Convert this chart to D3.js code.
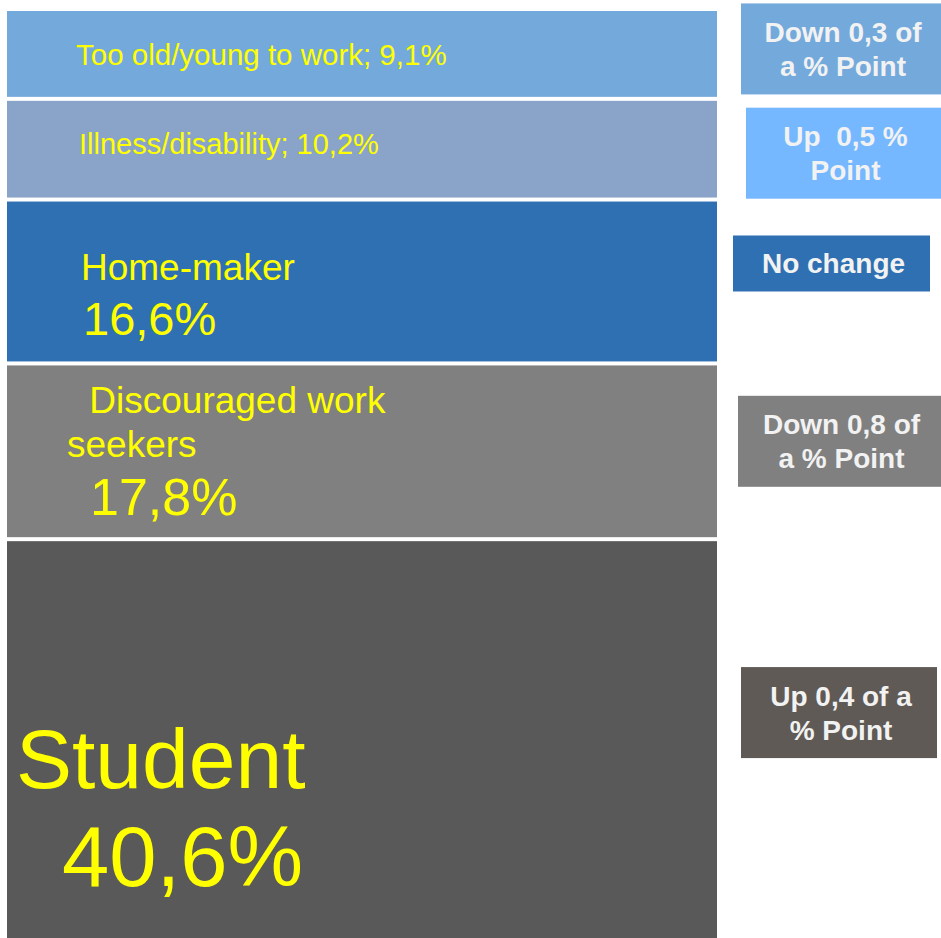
<!DOCTYPE html>
<html>
<head>
<meta charset="utf-8">
<script src="https://cdn.jsdelivr.net/npm/d3@7"></script>
<style>
  html, body { margin: 0; padding: 0; background: #fff; }
  svg { display: block; }
  text { font-family: "Liberation Sans", Arial, sans-serif; }
</style>
</head>
<body>
<div id="chart"></div>
<script>
// data, bottom to top of the stack
var categories = ["Student", "Discouraged work seekers", "Home-maker", "Illness/disability", "Too old/young to work"];
var shares = [40.6, 17.8, 16.6, 10.2, 9.1];
var changes = [
    ["Up 0,4 of a", "% Point"],
    ["Down 0,8 of", "a % Point"],
    ["No change"],
    ["Up  0,5 %", "Point"],
    ["Down 0,3 of", "a % Point"]
];

var barColors = ["#595959", "#808080", "#2e70b1", "#8aa3c8", "#74a9dc"];
var boxColors = ["#5f5a55", "#808080", "#2e70b1", "#75b8ff", "#74a9dc"];

var width = 941, height = 938;
var gap = 4;

function pct(v) {
    return d3.format(".1f")(v).replace(".", ",") + "%";
}

// label lines inside each bar: dx, dy from bar top, font size
var barLabels = [
    [{t: "Student", x: 16, dy: 247, fs: 84}, {t: pct(shares[0]), x: 62, dy: 345, fs: 85}],
    [{t: " Discouraged work", x: 79, dy: 48, fs: 37}, {t: "seekers", x: 67, dy: 92, fs: 37}, {t: pct(shares[1]), x: 90, dy: 150, fs: 52}],
    [{t: categories[2], x: 81, dy: 78, fs: 37}, {t: pct(shares[2]), x: 83, dy: 133, fs: 47}],
    [{t: categories[3] + "; " + pct(shares[3]), x: 79, dy: 53, fs: 29}],
    [{t: categories[4] + "; " + pct(shares[4]), x: 76, dy: 54, fs: 29.5}]
];

// change boxes: x, width, height, vertical shift of centre vs bar centre
var boxLayout = [
    {x: 741, w: 196, h: 91, shift: -27},
    {x: 738, w: 203, h: 91, shift: -10},
    {x: 733, w: 197, h: 56, shift: -18},
    {x: 746, w: 195, h: 91, shift: 4},
    {x: 741, w: 200, h: 91, shift: -5}
];

var stack = [];
var cum = 0;
shares.forEach(function (v, i) {
    stack.push({i: i, y0: cum, y1: cum + v, v: v});
    cum += v;
});

var y = d3.scaleLinear().domain([0, d3.sum(shares)]).range([940, 9]);
var x0 = 7, x1 = 717;

var svg = d3.select("#chart").append("svg")
    .attr("width", width)
    .attr("height", height);

var bars = svg.selectAll("g.bar")
    .data(stack)
    .enter()
    .append("g")
    .attr("class", "bar");

bars.append("rect")
    .attr("x", x0)
    .attr("width", x1 - x0)
    .attr("y", function (d) { return y(d.y1) + gap / 2; })
    .attr("height", function (d) { return y(d.y0) - y(d.y1) - gap; })
    .attr("fill", function (d) { return barColors[d.i]; });

bars.each(function (d) {
    var top = y(d.y1) + gap / 2;
    d3.select(this).selectAll("text")
        .data(barLabels[d.i])
        .enter()
        .append("text")
        .attr("x", function (l) { return l.x; })
        .attr("y", function (l) { return top + l.dy; })
        .attr("font-size", function (l) { return l.fs; })
        .attr("fill", "#ffff00")
        .style("white-space", "pre")
        .text(function (l) { return l.t; });
});

// change boxes on the right
var boxes = svg.selectAll("g.box")
    .data(stack)
    .enter()
    .append("g")
    .attr("class", "box");

boxes.each(function (d) {
    var b = boxLayout[d.i];
    var mid = (y(d.y0) + y(d.y1)) / 2 + b.shift;
    var g = d3.select(this);
    g.append("rect")
        .attr("x", b.x)
        .attr("y", mid - b.h / 2)
        .attr("width", b.w)
        .attr("height", b.h)
        .attr("fill", boxColors[d.i]);
    var lines = changes[d.i];
    var lh = 34;
    g.selectAll("text")
        .data(lines)
        .enter()
        .append("text")
        .attr("x", b.x + b.w / 2 + 2)
        .attr("y", function (t, j) { return mid + 10 + (j - (lines.length - 1) / 2) * lh; })
        .attr("text-anchor", "middle")
        .attr("font-size", 28)
        .attr("font-weight", "bold")
        .attr("fill", "#f2f2f2")
        .style("white-space", "pre")
        .text(function (t) { return t; });
});
</script>
</body>
</html>
